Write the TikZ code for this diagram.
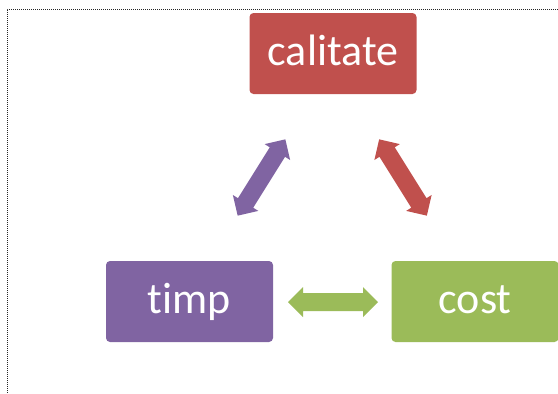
\documentclass[tikz,border=0pt]{standalone}
\usepackage{fontspec}
\setmainfont[Ligatures={NoCommon,NoContextual}]{Carlito}
\definecolor{calred}{HTML}{C0504D}
\definecolor{timppurple}{HTML}{8064A2}
\definecolor{costgreen}{HTML}{9BBB59}
\tikzset{
  frameline/.style={draw=black!85, line width=0.8pt, dash pattern=on 1pt off 1pt},
  box/.style={rounded corners=4pt, minimum width=167pt, minimum height=81pt,
    inner sep=0pt, text=white, font=\fontsize{44}{44}\selectfont,
    text height=35pt, text depth=11pt},
  % double-headed block arrow, 90 long, centred on the pic origin
  pics/dblarrow/.style={code={
    \fill[#1] (-45,0) -- (-30,15) -- (-30,9) -- (30,9) -- (30,15) -- (45,0)
      -- (30,-15) -- (30,-9) -- (-30,-9) -- (-30,-15) -- cycle;
  }}
}
\begin{document}
\begin{tikzpicture}[x=1pt,y=-1pt]
\useasboundingbox (0,0) rectangle (558,394);
\coordinate (frameTR) at (558,9);
\coordinate (frameTL) at (7,9);
\coordinate (frameBL) at (7,394);
\draw[frameline] (frameTR) -- (frameTL) -- (frameBL);

\node[box, fill=calred]     (calitate) at (333,53.5)  {calitate};
\node[box, fill=timppurple] (timp)     at (189.5,301.5) {timp};
\node[box, fill=costgreen]  (cost)     at (475,301.5) {cost};

\pic[rotate=58]  (timpcal) at (261.5,177.5) {dblarrow=timppurple};
\pic[rotate=-58] (calcost) at (403,177.5)   {dblarrow=calred};
\pic             (timpcost) at (333,302)    {dblarrow=costgreen};
\end{tikzpicture}
\end{document}
